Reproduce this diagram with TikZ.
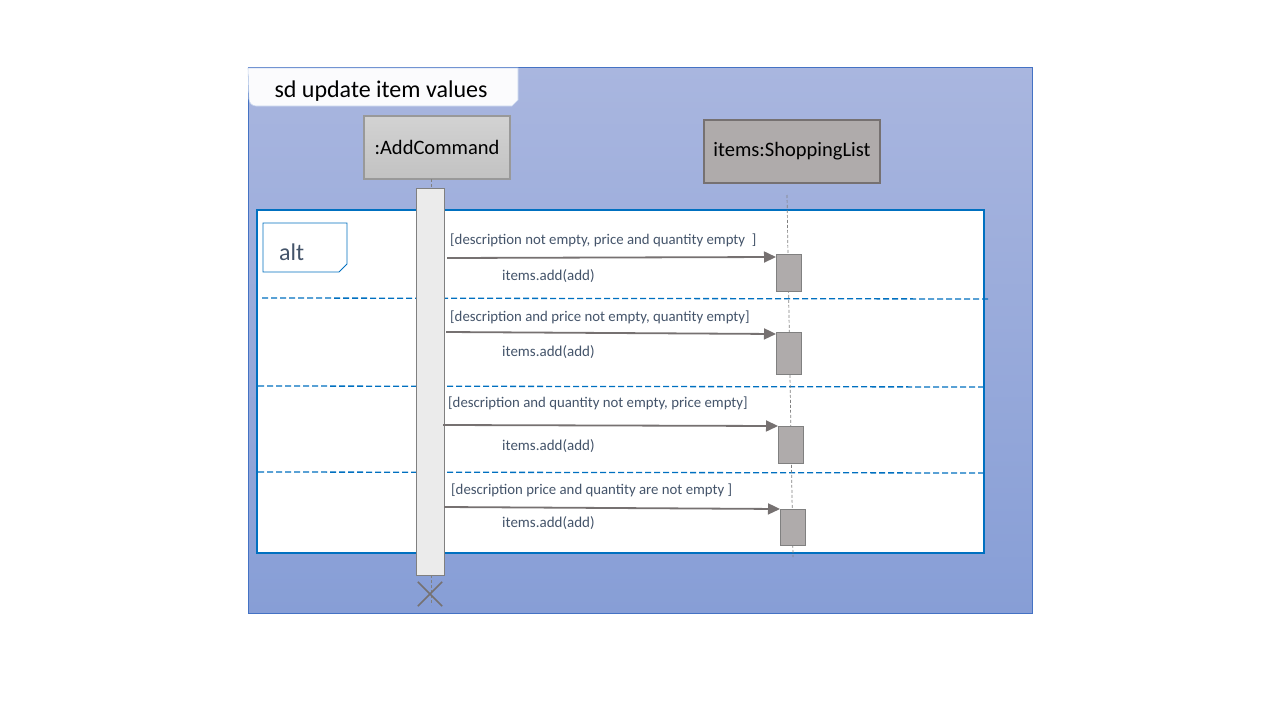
\documentclass[tikz,border=0pt]{standalone}
\usepackage{fontspec}
\setmainfont{Carlito}
\usetikzlibrary{arrows.meta}
\definecolor{framebd}{HTML}{4472C4}
\definecolor{fratop}{HTML}{A9B6DF}
\definecolor{frabot}{HTML}{879ED6}
\definecolor{altblue}{HTML}{0070C0}
\definecolor{txtgray}{HTML}{44546A}
\definecolor{arrgray}{HTML}{767171}
\definecolor{actgray}{HTML}{AFABAB}
\definecolor{barfill}{HTML}{EBEBEB}
\tikzset{
  msg/.style={draw=arrgray, line width=1.8pt, -{Triangle[length=12pt,width=11pt]}},
  guard/.style={anchor=west, inner sep=0pt, text=txtgray, font=\fontsize{14.8}{17}\selectfont},
  call/.style={anchor=west, inner sep=0pt, text=txtgray, font=\fontsize{15}{17}\selectfont},
  actbox/.style={draw=gray, fill=actgray, line width=0.8pt, minimum width=25pt, inner sep=0pt, anchor=north west},
  lifeline/.style={draw=gray, dashed, dash pattern=on 3pt off 2pt, line width=0.7pt},
  sep/.style={draw=altblue, line width=1.3pt, dash pattern=on 6pt off 3pt}
}
\begin{document}
\begin{tikzpicture}[x=1pt,y=-1pt]
\useasboundingbox (0,0) rectangle (1280,720);
% outer frame
\shade[top color=fratop, bottom color=frabot] (248,67) rectangle (1032,613);
\draw[framebd, line width=0.8pt] (248,67) rectangle (1032,613);
% title tab
\fill[fill=white!95!fratop, draw=white!70!framebd, line width=0.6pt]
  (248,68) -- (518,68) -- (518,100) -- (512,106) -- (256,106) to[out=180,in=270] (249,99) -- cycle;
\node[font=\fontsize{24}{28}\selectfont, text=black] (title) at (381,91) {sd update item values};
% lifeline heads
\node[draw=gray!80, line width=1.2pt, top color=gray!35, bottom color=gray!48, minimum width=146pt, minimum height=63pt, inner sep=0pt, font=\fontsize{20.5}{24}\selectfont] (cmd) at (437,147.5) {:AddCommand};
\node[draw=arrgray, line width=1.8pt, fill=actgray, minimum width=176pt, minimum height=63pt, inner sep=0pt, font=\fontsize{20.5}{24}\selectfont] (list) at (792,151.5) {items:ShoppingList};
% alt frame
\draw[altblue, fill=white, line width=2pt] (257,210) rectangle (984,553);
\draw[altblue, line width=0.8pt, fill=white] (263,223) -- (347,223) -- (347,264) -- (339,272) -- (263,272) -- cycle;
\node[text=txtgray, font=\fontsize{24}{28}\selectfont, anchor=west, inner sep=0pt] (alt) at (279,252) {alt};
% separators
\draw[sep] (262,298) -- (988,299);
\draw[sep] (258,386) -- (984,387);
\draw[sep] (258,472) -- (984,473);
% lifelines
\coordinate (cmdtop) at (431,179);
\coordinate (cmdmid) at (431,188);
\coordinate (cmdbot) at (431,575);
\coordinate (cmdend) at (431,605);
\coordinate (listtop) at (787,195);
\coordinate (listend) at (793,557);
\draw[lifeline] (cmdtop) -- (cmdmid);
\draw[lifeline] (cmdbot) -- (cmdend);
\draw[lifeline] (listtop) -- (listend);
% activation bar
\node[draw=gray, fill=barfill, line width=0.9pt, minimum width=28pt, minimum height=387pt, inner sep=0pt, anchor=north west] (bar) at (416,188) {};
% destruction
\node[minimum size=24pt, inner sep=0pt] (x) at (430,594) {};
\draw[arrgray, line width=1.5pt] (x.north west) -- (x.south east) (x.north east) -- (x.south west);
% target activations
\node[actbox, minimum height=37pt] (a1) at (776,254) {};
\node[actbox, minimum height=42pt] (a2) at (776,332) {};
\node[actbox, minimum height=37pt] (a3) at (778,426) {};
\node[actbox, minimum height=36pt] (a4) at (780,509) {};
% messages
\coordinate (s1) at (447,258);
\coordinate (s2) at (446,332);
\coordinate (s3) at (443,425);
\coordinate (s4) at (444,507);
\draw[msg] (s1) -- (a1.north west |- 0,257);
\draw[msg] (s2) -- (a2.north west |- 0,334);
\draw[msg] (s3) -- (a3.north west |- 0,426);
\draw[msg] (s4) -- (a4.north west |- 0,509);
% labels
\node[guard] (g1) at (450,240) {[description not empty, price and quantity empty\ \ ]};
\node[call] (c1) at (502,276) {items.add(add)};
\node[guard] (g2) at (450,317) {[description and price not empty, quantity empty]};
\node[call] (c2) at (502,352) {items.add(add)};
\node[guard] (g3) at (448,403) {[description and quantity not empty, price empty]};
\node[call] (c3) at (502,446) {items.add(add)};
\node[guard] (g4) at (451,490) {[description price and quantity are not empty ]};
\node[call] (c4) at (502,523) {items.add(add)};
\end{tikzpicture}
\end{document}
